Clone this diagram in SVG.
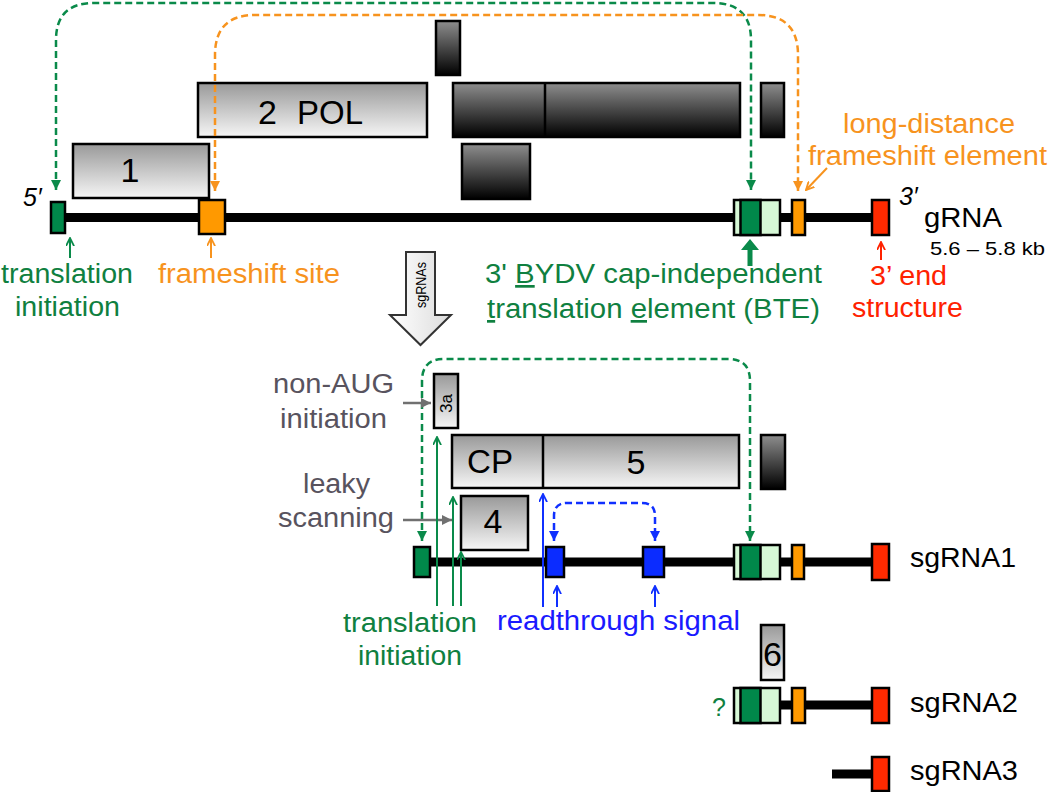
<svg xmlns="http://www.w3.org/2000/svg" width="1050" height="792" viewBox="0 0 1050 792">
<defs>
<linearGradient id="gl" x1="0" y1="0" x2="0" y2="1"><stop offset="0" stop-color="#999"/><stop offset="1" stop-color="#f6f6f6"/></linearGradient>
<linearGradient id="gd" x1="0" y1="0" x2="0" y2="1"><stop offset="0" stop-color="#8e8e8e"/><stop offset="1" stop-color="#000"/></linearGradient>
<linearGradient id="ga" x1="0" y1="0" x2="1" y2="0"><stop offset="0" stop-color="#fff"/><stop offset="1" stop-color="#dcdcdc"/></linearGradient>
<marker id="mg" viewBox="0 0 10 10" refX="10" refY="5" markerWidth="10" markerHeight="10" markerUnits="userSpaceOnUse" orient="auto-start-reverse"><path d="M0,0 L10,5 L0,10 z" fill="#0a8a4a"/></marker>
<marker id="mo" viewBox="0 0 10 10" refX="10" refY="5" markerWidth="10" markerHeight="10" markerUnits="userSpaceOnUse" orient="auto-start-reverse"><path d="M0,0 L10,5 L0,10 z" fill="#f7931e"/></marker>
<marker id="mb" viewBox="0 0 10 10" refX="10" refY="5" markerWidth="10" markerHeight="10" markerUnits="userSpaceOnUse" orient="auto-start-reverse"><path d="M0,0 L10,5 L0,10 z" fill="#1030ff"/></marker>
<marker id="sg" viewBox="0 0 10 10" refX="9" refY="5" markerWidth="9" markerHeight="9" markerUnits="userSpaceOnUse" orient="auto"><path d="M0,0.5 L9,5 L0,9.5" fill="none" stroke="#0a8a4a" stroke-width="2"/></marker>
<marker id="so" viewBox="0 0 10 10" refX="9" refY="5" markerWidth="9" markerHeight="9" markerUnits="userSpaceOnUse" orient="auto"><path d="M0,0.5 L9,5 L0,9.5" fill="none" stroke="#f7931e" stroke-width="2"/></marker>
<marker id="sr" viewBox="0 0 10 10" refX="9" refY="5" markerWidth="9" markerHeight="9" markerUnits="userSpaceOnUse" orient="auto"><path d="M0,0.5 L9,5 L0,9.5" fill="none" stroke="#ff2200" stroke-width="2"/></marker>
<marker id="sb" viewBox="0 0 10 10" refX="9" refY="5" markerWidth="9" markerHeight="9" markerUnits="userSpaceOnUse" orient="auto"><path d="M0,0.5 L9,5 L0,9.5" fill="none" stroke="#1030ff" stroke-width="2"/></marker>
<marker id="my" viewBox="0 0 10 10" refX="10" refY="5" markerWidth="10" markerHeight="10" markerUnits="userSpaceOnUse" orient="auto"><path d="M0,0 L10,5 L0,10 z" fill="#707070"/></marker>
</defs>
<style>
text{font-family:"Liberation Sans",Arial,sans-serif}
.lab{font-size:27px}
.num{font-size:34px;fill:#000}
.g{fill:#0f8040}
.o{fill:#f7931e}
.r{fill:#ff2200}
.b{fill:#1a1aff}
.gy{fill:#58535e}
.k{fill:#000}
.lb{fill:url(#gl);stroke:#000;stroke-width:2.5}
.db{fill:url(#gd);stroke:#000;stroke-width:2.5}
.bx{stroke:#000;stroke-width:2.5}
.rna{stroke:#000;stroke-width:9}
.dg{fill:none;stroke:#0a8a4a;stroke-width:2.5;stroke-dasharray:7 4}
.do{fill:none;stroke:#f7931e;stroke-width:2.5;stroke-dasharray:7 4}
.dbl{fill:none;stroke:#1030ff;stroke-width:2.5;stroke-dasharray:7 4}
</style>

<!-- ORF boxes -->
<g id="orf1"><rect class="lb" x="73" y="144" width="136" height="54"/><text class="num" x="130" y="182" text-anchor="middle">1</text></g>
<g id="orf2"><rect class="lb" x="198" y="83" width="229" height="54"/><text class="num" x="258" y="124">2</text><text class="num" x="297" y="124" textLength="66" lengthAdjust="spacingAndGlyphs">POL</text></g>
<g id="orf3a-top"><rect class="db" x="436" y="21" width="24" height="54"/></g>
<g id="orf-cp5-top"><rect class="db" x="453" y="83" width="287" height="54"/><line x1="545" y1="83" x2="545" y2="137" stroke="#000" stroke-width="2.5"/></g>
<g id="orf4-top"><rect class="db" x="462" y="144" width="68" height="55"/></g>
<g id="orf6-top"><rect class="db" x="761" y="83" width="23" height="54"/></g>

<!-- gRNA -->
<g id="gRNA">
<line class="rna" x1="58" y1="217.5" x2="876" y2="217.5"/>
<rect class="bx" x="51" y="202" width="14" height="31" fill="#00884a"/>
<rect class="bx" x="199" y="200" width="26" height="34" fill="#ff9900"/>
<rect class="bx" x="734" y="200" width="46" height="35" fill="#d6f8d6"/>
<rect class="bx" x="740.5" y="200" width="20" height="35" fill="#00884a" stroke-width="2"/>
<rect class="bx" x="792" y="200" width="13" height="35" fill="#ff9900"/>
<rect class="bx" x="872" y="200" width="17" height="35" fill="#ff2a00"/>
<text x="23" y="206" font-size="25" font-style="italic" class="k">5′</text>
<text x="899" y="205" font-size="25" font-style="italic" class="k">3′</text>
<text class="lab k" x="924" y="227" textLength="78" lengthAdjust="spacingAndGlyphs">gRNA</text>
<text class="k" x="930" y="255" font-size="19" textLength="115" lengthAdjust="spacingAndGlyphs">5.6 – 5.8 kb</text>
</g>

<!-- labels top -->
<g id="lab-ti1">
<text class="lab g" x="1" y="283" textLength="132" lengthAdjust="spacingAndGlyphs">translation</text>
<text class="lab g" x="15" y="316" textLength="105" lengthAdjust="spacingAndGlyphs">initiation</text>
</g>
<g id="lab-fs"><text class="lab o" x="158" y="283" textLength="182" lengthAdjust="spacingAndGlyphs">frameshift site</text></g>
<g id="lab-bte">
<text class="lab g" x="485" y="283" textLength="337" lengthAdjust="spacingAndGlyphs">3' <tspan style="text-decoration:underline">B</tspan>YDV cap-independent</text>
<text class="lab g" x="487" y="318" textLength="333" lengthAdjust="spacingAndGlyphs"><tspan style="text-decoration:underline">t</tspan>ranslation <tspan style="text-decoration:underline">e</tspan>lement (BTE)</text>
</g>
<g id="lab-end">
<text class="lab r" x="870" y="285" textLength="77" lengthAdjust="spacingAndGlyphs">3’ end</text>
<text class="lab r" x="852" y="317" textLength="111" lengthAdjust="spacingAndGlyphs">structure</text>
</g>
<g id="lab-ld">
<text class="lab o" x="843" y="133" textLength="172" lengthAdjust="spacingAndGlyphs">long-distance</text>
<text class="lab o" x="808" y="165" textLength="239" lengthAdjust="spacingAndGlyphs">frameshift element</text>
</g>

<!-- sgRNAs arrow -->
<g id="sgRNAs-arrow">
<path d="M406,252 H435 V315 H451 L420.5,345 L390,315 H406 Z" fill="url(#ga)" stroke="#333" stroke-width="2"/>
<text x="0" y="0" font-size="15" class="k" transform="translate(426,308) rotate(-90)" textLength="46" lengthAdjust="spacingAndGlyphs">sgRNAs</text>
</g>

<!-- sgRNA1 ORFs -->
<g id="orf3a"><rect class="lb" x="434" y="374" width="24" height="54"/><text x="0" y="0" font-size="17" class="k" transform="translate(452,413) rotate(-90)">3a</text></g>
<g id="orf-cp5"><rect class="lb" x="452" y="435" width="287" height="53"/><line x1="543" y1="435" x2="543" y2="488" stroke="#000" stroke-width="2.5"/>
<text class="num" x="490" y="473" text-anchor="middle" textLength="46" lengthAdjust="spacingAndGlyphs">CP</text><text class="num" x="636" y="474" text-anchor="middle">5</text></g>
<g id="orf6-mid"><rect class="db" x="761" y="435" width="24" height="54"/></g>
<g id="orf4"><rect class="lb" x="461" y="496" width="67" height="54"/><text class="num" x="493" y="533" text-anchor="middle">4</text></g>

<g id="lab-nonaug">
<text class="lab gy" x="273" y="393" textLength="121" lengthAdjust="spacingAndGlyphs">non-AUG</text>
<text class="lab gy" x="280" y="428" textLength="107" lengthAdjust="spacingAndGlyphs">initiation</text>
</g>
<g id="lab-leaky">
<text class="lab gy" x="303" y="493" textLength="67" lengthAdjust="spacingAndGlyphs">leaky</text>
<text class="lab gy" x="278" y="527" textLength="116" lengthAdjust="spacingAndGlyphs">scanning</text>
</g>

<!-- sgRNA1 -->
<g id="sgRNA1">
<line class="rna" x1="420" y1="562" x2="876" y2="562"/>
<rect class="bx" x="414" y="547" width="16" height="30" fill="#00884a"/>
<rect class="bx" x="546" y="547" width="18" height="30" fill="#0b2cff"/>
<rect class="bx" x="643" y="547" width="21" height="30" fill="#0b2cff"/>
<rect class="bx" x="734" y="545" width="46" height="34" fill="#d6f8d6"/>
<rect class="bx" x="740.5" y="545" width="20" height="34" fill="#00884a" stroke-width="2"/>
<rect class="bx" x="792" y="545" width="12" height="34" fill="#ff9900"/>
<rect class="bx" x="872" y="544" width="17" height="36" fill="#ff2a00"/>
<text class="lab k" x="910" y="567" textLength="106" lengthAdjust="spacingAndGlyphs">sgRNA1</text>
</g>

<g id="lab-ti2">
<text class="lab g" x="343" y="632" textLength="134" lengthAdjust="spacingAndGlyphs">translation</text>
<text class="lab g" x="358" y="665" textLength="104" lengthAdjust="spacingAndGlyphs">initiation</text>
</g>
<g id="lab-rt"><text class="lab b" x="497" y="630" textLength="243" lengthAdjust="spacingAndGlyphs">readthrough signal</text></g>

<!-- sgRNA2 -->
<g id="orf6"><rect class="lb" x="761" y="625" width="23" height="55"/><text class="num" x="772.5" y="666" text-anchor="middle">6</text></g>
<g id="sgRNA2">
<line class="rna" x1="780" y1="705" x2="876" y2="705"/>
<rect class="bx" x="734" y="688" width="46" height="35" fill="#d6f8d6"/>
<rect class="bx" x="740.5" y="688" width="20" height="35" fill="#00884a" stroke-width="2"/>
<rect class="bx" x="792" y="688" width="13" height="35" fill="#ff9900"/>
<rect class="bx" x="872" y="688" width="17" height="35" fill="#ff2a00"/>
<text class="g" x="712" y="716" font-size="25">?</text>
<text class="lab k" x="910" y="712" textLength="108" lengthAdjust="spacingAndGlyphs">sgRNA2</text>
</g>
<g id="sgRNA3">
<line class="rna" x1="832" y1="774" x2="876" y2="774"/>
<rect class="bx" x="872" y="757" width="17" height="34" fill="#ff2a00"/>
<text class="lab k" x="910" y="780" textLength="108" lengthAdjust="spacingAndGlyphs">sgRNA3</text>
</g>

<!-- connectors -->
<g id="connectors">
<path class="dg" d="M56,190 V40 Q56,3 94,3 H713 Q751,3 751,40 V190" marker-start="url(#mg)" marker-end="url(#mg)"/>
<path class="do" d="M215,191 V55 Q215,15 255,15 H758 Q798,15 798,55 V191" marker-start="url(#mo)" marker-end="url(#mo)"/>
<path class="dg" d="M422,541 V381 Q422,359 444,359 H728 Q750,359 750,381 V541" marker-start="url(#mg)" marker-end="url(#mg)"/>
<path class="dbl" d="M554,541 V516 Q554,503 567,503 H642 Q655,503 655,516 V541" marker-start="url(#mb)" marker-end="url(#mb)"/>
<line x1="70" y1="258" x2="70" y2="238" stroke="#0a8a4a" stroke-width="2" marker-end="url(#sg)"/>
<line x1="211" y1="258" x2="211" y2="238" stroke="#f7931e" stroke-width="2" marker-end="url(#so)"/>
<line x1="881" y1="260" x2="881" y2="242" stroke="#ff2200" stroke-width="2" marker-end="url(#sr)"/>
<line x1="827" y1="168" x2="806" y2="190" stroke="#f7931e" stroke-width="2" marker-end="url(#so)"/>
<path d="M747.5,266 V250 H741 L750,239 L759,250 H752.5 V266 Z" fill="#0a8a4a"/>
<line x1="403" y1="403" x2="431" y2="403" stroke="#707070" stroke-width="2.5" marker-end="url(#my)"/>
<line x1="403" y1="520" x2="452" y2="520" stroke="#707070" stroke-width="2.5" marker-end="url(#my)"/>
<line x1="437" y1="606" x2="437" y2="437" stroke="#0a8a4a" stroke-width="2" marker-end="url(#sg)"/>
<line x1="453" y1="606" x2="453" y2="497" stroke="#0a8a4a" stroke-width="2" marker-end="url(#sg)"/>
<line x1="461" y1="606" x2="461" y2="552" stroke="#0a8a4a" stroke-width="2" marker-end="url(#sg)"/>
<line x1="543" y1="607" x2="543" y2="494" stroke="#1030ff" stroke-width="2" marker-end="url(#sb)"/>
<line x1="557" y1="607" x2="557" y2="586" stroke="#1030ff" stroke-width="2" marker-end="url(#sb)"/>
<line x1="655" y1="607" x2="655" y2="586" stroke="#1030ff" stroke-width="2" marker-end="url(#sb)"/>
</g>
</svg>
